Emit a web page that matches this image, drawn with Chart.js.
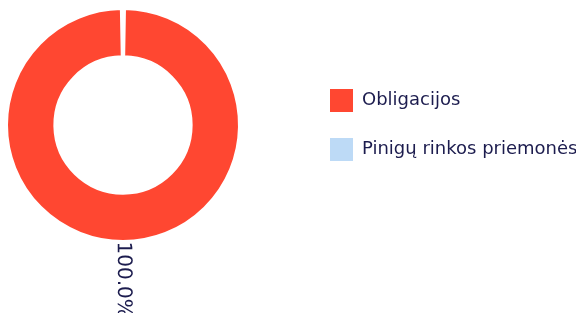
<!DOCTYPE html>
<html>
<head>
<meta charset="utf-8">
<script src="https://cdn.jsdelivr.net/npm/chart.js@4/dist/chart.umd.min.js"></script>
<style>
  html, body { margin: 0; padding: 0; background: #fff; overflow: hidden; }
  body { width: 576px; height: 313px; position: relative; }
  #wrap { position: absolute; left: -58px; top: 0; width: 634px; height: 313px; }
</style>
</head>
<body>
<div id="wrap"><canvas id="chart"></canvas></div>
<script>
const labels = ["Obligacijos", "Pinigų rinkos priemonės"];
const shares = [99.98, 0.02];
const colors = ["#ff4731", "#bddaf6"];
const textColor = "#1c1c4e";

// percentage label outside each slice, turned along the slice's middle angle
const sliceLabels = {
  id: "sliceLabels",
  afterDatasetsDraw(chart) {
    const ctx = chart.ctx;
    const total = shares.reduce((a, b) => a + b, 0);
    chart.getDatasetMeta(0).data.forEach((arc, i) => {
      const pct = (shares[i] / total) * 100;
      if (pct < 1) return;
      const p = arc.getProps(["x", "y", "startAngle", "endAngle", "outerRadius"], true);
      const mid = (p.startAngle + p.endAngle) / 2;
      const r = p.outerRadius + 1;
      ctx.save();
      ctx.translate(p.x + Math.cos(mid) * r, p.y + Math.sin(mid) * r);
      ctx.rotate(mid);
      ctx.font = '20px "DejaVu Sans"';
      ctx.fillStyle = textColor;
      ctx.textAlign = "left";
      ctx.textBaseline = "middle";
      ctx.fillText(pct.toFixed(1) + "%", 0, 0);
      ctx.restore();
    });
  },
};

new Chart(document.getElementById("chart"), {
  type: "doughnut",
  data: {
    labels: labels,
    datasets: [
      {
        data: shares,
        backgroundColor: colors,
        borderColor: "#ffffff",
        borderWidth: 2,
        spacing: 1,
      },
    ],
  },
  options: {
    responsive: true,
    maintainAspectRatio: false,
    animation: false,
    cutout: "59%",
    layout: { padding: { top: 8, bottom: 71, left: 0, right: 0 } },
    plugins: {
      tooltip: { enabled: false },
      legend: {
        position: "right",
        maxWidth: 272,
        labels: {
          boxWidth: 23,
          boxHeight: 23,
          padding: 26,
          color: textColor,
          font: { family: "DejaVu Sans", size: 18 },
          generateLabels(chart) {
            const items = Chart.overrides.doughnut.plugins.legend.labels.generateLabels(chart);
            items.forEach((item) => (item.lineWidth = 0));
            return items;
          },
        },
      },
    },
  },
  plugins: [sliceLabels],
});
</script>
</body>
</html>
